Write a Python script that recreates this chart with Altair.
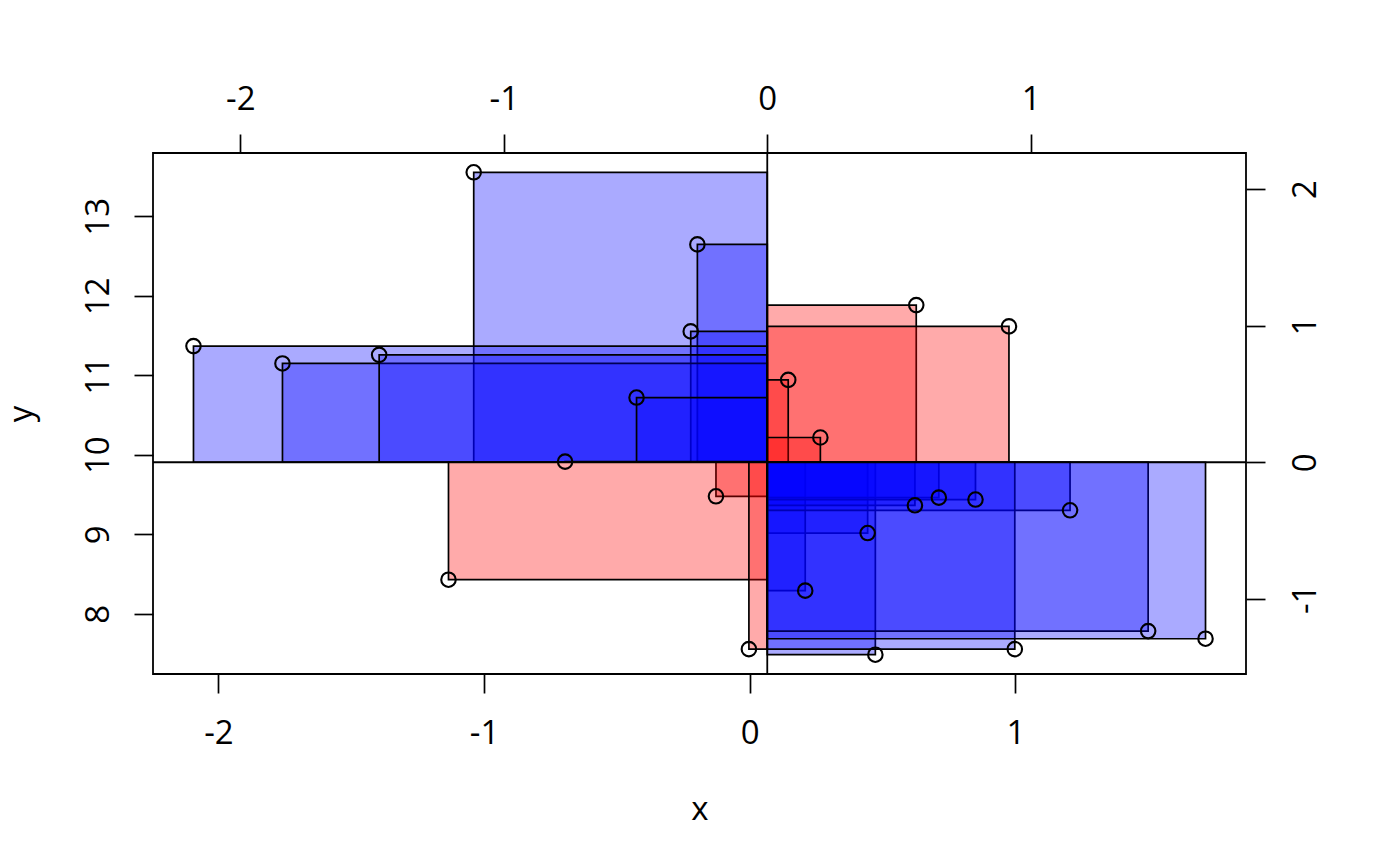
import altair as alt
import numpy as np
import pandas as pd

# Data points
x_vals = [-1.039, -0.197, -0.222, -2.094, -1.759, -1.395, -0.426, -0.695,
          0.627, 0.976, 0.145, 0.266, -0.127, -1.134, -0.003, 0.444,
          0.209, 0.473, 0.622, 0.712, 0.850, 1.206, 0.998, 1.500, 1.716]
y_vals = [13.554, 12.647, 11.552, 11.367, 11.149, 11.257, 10.720, 9.914,
          11.883, 11.615, 10.942, 10.217, 9.477, 8.428, 7.554, 9.015,
          8.290, 7.484, 9.364, 9.461, 9.436, 9.301, 7.554, 7.781, 7.685]

bottom_ticks = [-2, -1, 0, 1]
left_ticks = [8, 9, 10, 11, 12, 13]
top_ticks = [-2, -1, 0, 1]
right_ticks = [-1, 0, 1, 2]

x = np.array(x_vals)
y = np.array(y_vals)
mx, my = x.mean(), y.mean()
sx, sy = x.std(ddof=1), y.std(ddof=1)
xr = x.max() - x.min()
yr = y.max() - y.min()
xdom = [x.min() - 0.04 * xr, x.max() + 0.04 * xr]
ydom = [y.min() - 0.04 * yr, y.max() + 0.04 * yr]

df = pd.DataFrame({
    "x": x, "y": y, "mx": mx, "my": my,
    "sign": np.where((x - mx) * (y - my) > 0, "pos", "neg"),
})
df_mean = pd.DataFrame({"mx": [mx], "my": [my]})
df_z = pd.DataFrame({"zx": (x - mx) / sx, "zy": (y - my) / sy})

W, H = 1093, 521
FS = 33
FONT = "Open Sans"

xscale = alt.Scale(domain=xdom, nice=False, zero=False)
yscale = alt.Scale(domain=ydom, nice=False, zero=False)

xaxis = alt.Axis(orient="bottom", values=bottom_ticks, labelPadding=24.5,
                 title="x", titleX=W / 2, titleY=145.3, titleBaseline="alphabetic",
                 titleAlign="center", titleAngle=0, labelExpr="'' + datum.value")
yaxis = alt.Axis(orient="left", values=left_ticks, labelAngle=270, labelAlign="center",
                 labelBaseline="bottom", labelPadding=19,
                 title="y", titleX=-122, titleY=H / 2, titleAngle=270,
                 titleAlign="center", titleBaseline="alphabetic",
                 labelExpr="'' + datum.value")

rects = alt.Chart(df).mark_rect(fillOpacity=1 / 3, stroke="black", strokeWidth=1.7,
                                strokeOpacity=1).encode(
    x=alt.X("x:Q", scale=xscale, axis=xaxis),
    x2="mx:Q",
    y=alt.Y("y:Q", scale=yscale, axis=yaxis),
    y2="my:Q",
    fill=alt.Fill("sign:N", scale=alt.Scale(domain=["neg", "pos"],
                                            range=["#0000ff", "#ff0000"]), legend=None),
)

vline = alt.Chart(df_mean).mark_rule(color="black", strokeWidth=1.8).encode(
    x=alt.X("mx:Q", scale=xscale, axis=xaxis))
hline = alt.Chart(df_mean).mark_rule(color="black", strokeWidth=1.8).encode(
    y=alt.Y("my:Q", scale=yscale, axis=yaxis))

points = alt.Chart(df).mark_point(shape="circle", filled=False, color="black",
                                  size=210, strokeWidth=2.1, opacity=1).encode(
    x=alt.X("x:Q", scale=xscale, axis=xaxis),
    y=alt.Y("y:Q", scale=yscale, axis=yaxis),
)

inner = alt.layer(rects, vline, hline, points)

zxdom = [(xdom[0] - mx) / sx, (xdom[1] - mx) / sx]
zydom = [(ydom[0] - my) / sy, (ydom[1] - my) / sy]

secondary = alt.Chart(df_z).mark_point(opacity=0).encode(
    x=alt.X("zx:Q", scale=alt.Scale(domain=zxdom, nice=False, zero=False),
            axis=alt.Axis(orient="top", values=top_ticks, labelPadding=18, title=None,
                          labelExpr="'' + datum.value")),
    y=alt.Y("zy:Q", scale=alt.Scale(domain=zydom, nice=False, zero=False),
            axis=alt.Axis(orient="right", values=right_ticks, labelAngle=270,
                          labelAlign="center", labelBaseline="top", labelPadding=24.5,
                          title=None, labelExpr="'' + datum.value")),
)

chart = alt.layer(inner, secondary).resolve_scale(
    x="independent", y="independent"
).properties(
    width=W, height=H,
    autosize=alt.AutoSizeParams(type="none"),
    padding={"left": 145, "top": 145, "right": 130, "bottom": 170},
).configure_view(
    stroke="black", strokeWidth=1.8
).configure_axis(
    labelFont=FONT, titleFont=FONT, labelFontSize=FS, titleFontSize=FS,
    labelColor="black", titleColor="black", tickColor="black",
    domain=False, grid=False, tickSize=19, tickWidth=1.7,
    titleFontWeight="normal", labelFlush=False, labelOverlap=False,
)

chart.save("out.html", embed_options={"renderer": "svg", "actions": False})
